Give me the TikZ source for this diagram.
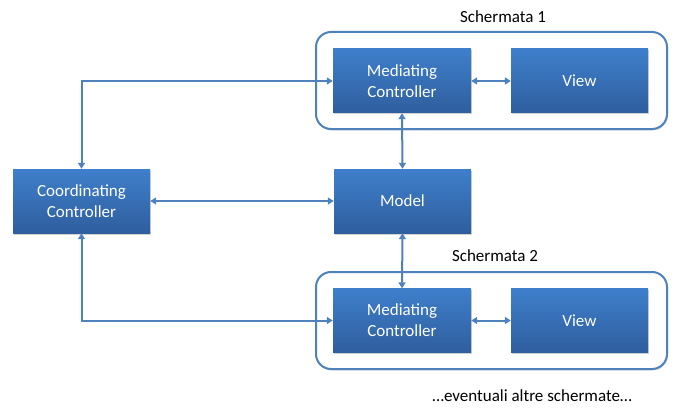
\documentclass[tikz,border=0pt]{standalone}
\usepackage{fontspec}
\setmainfont{Carlito}
\usetikzlibrary{arrows.meta,shadows}
\definecolor{boxtop}{RGB}{62,127,203}
\definecolor{boxbot}{RGB}{47,94,158}
\definecolor{linec}{RGB}{79,129,189}
\tikzset{
  bluebox/.style={rectangle, minimum width=137pt, minimum height=64pt, inner sep=0pt,
    top color=boxtop, bottom color=boxbot, draw=none, text=white, align=center,
    font=\fontsize{17}{21}\selectfont,
    drop shadow={opacity=0.35, shadow xshift=1pt, shadow yshift=-1.5pt}},
  framebox/.style={draw=linec, line width=2pt, rounded corners=15pt, fill=white,
    drop shadow={opacity=0.25, shadow xshift=1pt, shadow yshift=-1.5pt}},
  conn/.style={draw=linec, line width=2pt, {Triangle[length=6pt,width=7pt]}-{Triangle[length=6pt,width=7pt]}},
  lbl/.style={font=\fontsize{17}{21}\selectfont, text=black, inner sep=0pt}
}
\begin{document}
\begin{tikzpicture}[x=1pt,y=-1pt]
\useasboundingbox (0,0) rectangle (686,412);
% frames
\path[framebox] (316,32) rectangle (667,129);
\path[framebox] (316,272) rectangle (667,369);
\node[lbl] (s1) at (503,17) {Schermata 1};
\node[lbl] (s2) at (495,256) {Schermata 2};
\node[lbl] (more) at (532,396) {\dots eventuali altre schermate\dots};
% boxes
\node[bluebox] (coord) at (81.5,201) {Coordinating\\Controller};
\node[bluebox] (model) at (402.5,201) {Model};
\node[bluebox, minimum width=138pt] (med1) at (402,81) {Mediating\\Controller};
\node[bluebox] (view1) at (579.5,81) {View};
\node[bluebox, minimum width=138pt] (med2) at (402,320.5) {Mediating\\Controller};
\node[bluebox] (view2) at (579.5,320.5) {View};
% connectors
\draw[conn] (coord.north) |- (med1.west);
\draw[conn] (coord.south) |- (med2.west);
\draw[conn] (coord.east) -- (model.west);
\draw[conn] (med1.south) -- (model.north);
\draw[conn] (model.south) -- (med2.north);
\draw[conn] (med1.east) -- (view1.west);
\draw[conn] (med2.east) -- (view2.west);
\end{tikzpicture}
\end{document}
